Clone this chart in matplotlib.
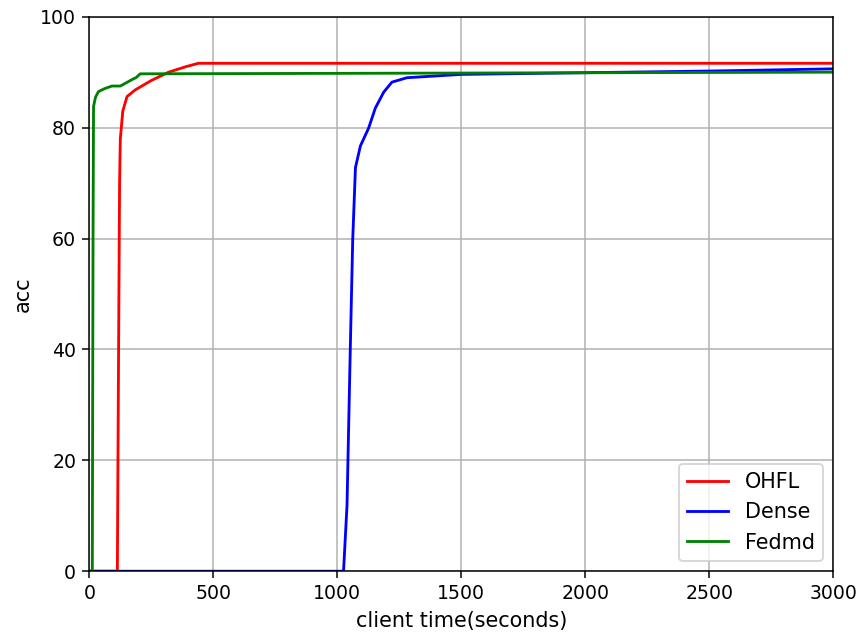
import numpy as np
import matplotlib.pyplot as plt

# Accuracy vs client time
ohfl_t = [0, 113, 118, 122, 125, 135, 152, 185, 250, 320, 390, 440, 3000]
ohfl_acc = [0, 0, 40, 70, 78, 83, 85.6, 86.8, 88.5, 90.0, 91.0, 91.6, 91.6]

dense_t = [0, 1025, 1039, 1052, 1062, 1073, 1093, 1126, 1153, 1187, 1220, 1281, 1500, 2000, 2500, 3000]
dense_acc = [0, 0, 11.9, 39.7, 59.8, 72.8, 76.7, 79.9, 83.5, 86.4, 88.2, 89.0, 89.6, 89.9, 90.2, 90.6]

fedmd_t = [0, 12, 15, 17, 25, 37, 60, 91, 125, 178, 188, 205, 3000]
fedmd_acc = [0, 0, 60, 83.8, 85.5, 86.5, 87.0, 87.5, 87.5, 88.8, 89.0, 89.7, 90.0]

fig = plt.figure(figsize=(6.4, 4.753), dpi=135.5)
plt.subplots_adjust(left=0.103, right=0.961, top=0.974, bottom=0.113)

plt.plot(ohfl_t, ohfl_acc, color="red", label="OHFL")
plt.plot(dense_t, dense_acc, color="blue", label="Dense")
plt.plot(fedmd_t, fedmd_acc, color="green", label="Fedmd")
plt.xlim(0, 3000)
plt.ylim(0, 100)
plt.xlabel("client time(seconds)", fontsize=11)
plt.ylabel("acc", fontsize=11)
plt.legend(loc="lower right", fontsize=11)
plt.grid()
plt.savefig("out.png")
